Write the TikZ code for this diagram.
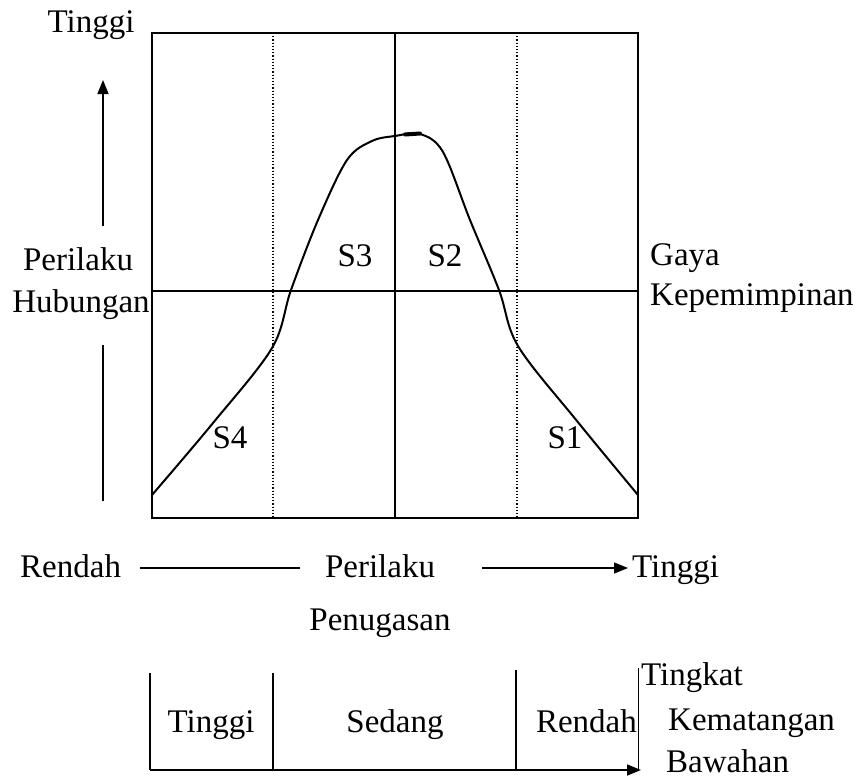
\documentclass[tikz,border=0pt]{standalone}
\usepackage{fontspec}
\setmainfont{Liberation Serif}
\usetikzlibrary{arrows.meta}
\begin{document}
\begin{tikzpicture}[x=1pt,y=-1pt,
  lbl/.style={inner sep=0pt, anchor=base, font=\fontsize{33}{37}\selectfont},
  lbll/.style={lbl, anchor=base west},
  frame/.style={line width=2pt},
  thinln/.style={line width=1.2pt},
  dots/.style={line width=1.2pt, dotted},
  arr/.style={line width=1.5pt, -{Triangle[length=14pt,width=11pt]}}]
\useasboundingbox (0,0) rectangle (859,779);
% main box
\coordinate (tl) at (152,33);
\coordinate (br) at (638,518);
\draw[frame] (tl) rectangle (br);
\coordinate (ct) at (395,33);
\coordinate (cb) at (395,518);
\draw[frame] (ct) -- (cb);
\coordinate (ml) at (152,291);
\coordinate (mr) at (638,291);
\draw[thinln] (ml) -- (mr);
\coordinate (d1t) at (273,33);
\coordinate (d1b) at (273,518);
\coordinate (d2t) at (517,33);
\coordinate (d2b) at (517,518);
\draw[dots] (d1t) -- (d1b);
\draw[dots] (d2t) -- (d2b);
% curve
\draw[line width=2pt, line join=round] plot[smooth, tension=0.55] coordinates {
 (152,495) (213,423) (272,348) (291,290) (318,220) (347,160) (372,141) (395,136) (420,134) (443,152) (470,220) (499,290) (518,346) (577,421) (638,495)};
\draw[line width=4pt, line cap=round] (405,134.5) -- (420,133.5);
% quadrant labels
\node[lbl] (s3) at (355,266) {S3};
\node[lbl] (s2) at (445,266) {S2};
\node[lbl] (s4) at (230,448) {S4};
\node[lbl] (s1) at (565,448) {S1};
% left axis
\node[lbl] (ytop) at (91,32) {Tinggi};
\node[lbl] (yl1) at (78,270) {Perilaku};
\node[lbl] (yl2) at (81,312) {Hubungan};
\coordinate (au0) at (103,226);
\coordinate (au1) at (103,80);
\coordinate (al0) at (103,345);
\coordinate (al1) at (103,501);
\draw[arr] (au0) -- (au1);
\draw[line width=1.5pt] (al0) -- (al1);
% right labels
\node[lbll] (g1) at (650,265) {Gaya};
\node[lbll] (g2) at (650,305) {Kepemimpinan};
% bottom axis
\node[lbll] (xr) at (20,577) {Rendah};
\node[lbl] (xp) at (380,577) {Perilaku};
\node[lbll] (xt) at (632,577) {Tinggi};
\node[lbl] (xp2) at (380,630) {Penugasan};
\draw[line width=1.5pt] (140,568) coordinate (x0) -- (300,568) coordinate (x1);
\draw[arr] (482,568) coordinate (x2) -- (628,568) coordinate (x3);
% maturity bracket
\coordinate (b1t) at (150,673);
\coordinate (b1b) at (150,770);
\coordinate (b2t) at (273,673);
\coordinate (b2b) at (273,770);
\coordinate (b3t) at (516,670);
\coordinate (b3b) at (516,770);
\coordinate (b4t) at (638,668);
\coordinate (b4b) at (638,770);
\draw[line width=1.5pt] (b1t) -- (b1b);
\draw[line width=1.5pt] (b2t) -- (b2b);
\draw[line width=1.5pt] (b3t) -- (b3b);
\draw[line width=1pt] (b4t) -- (b4b);
\draw[arr] (b1b) -- (641,770);
\node[lbl] (m1) at (211,732) {Tinggi};
\node[lbl] (m2) at (395,732) {Sedang};
\node[lbl, anchor=base east] (m3) at (637,732) {Rendah};
\node[lbll] (k1) at (641,685) {Tingkat};
\node[lbll] (k2) at (668,730) {Kematangan};
\node[lbll] (k3) at (666,772) {Bawahan};
\end{tikzpicture}
\end{document}
